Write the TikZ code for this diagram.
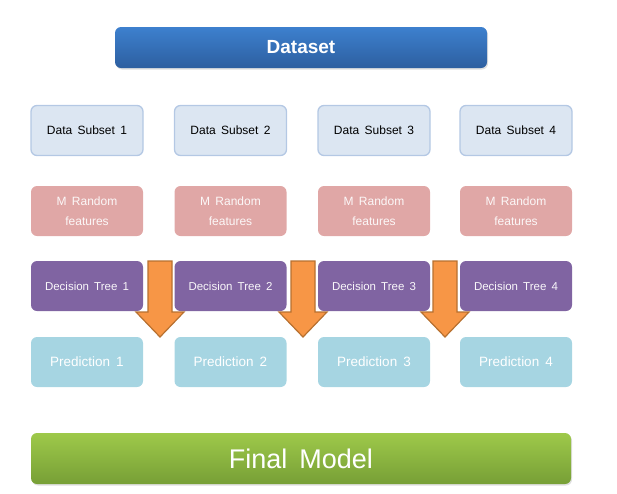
\documentclass[tikz,border=0pt]{standalone}
\usepackage{fontspec}
\setmainfont{Liberation Sans}[WordSpace=1.6]
\usepackage{xcolor}
\usepackage{tikz}
\usetikzlibrary{shadows}

\definecolor{dsTop}{HTML}{3D80CE}
\definecolor{dsBot}{HTML}{2D5FA0}
\definecolor{subFill}{HTML}{DCE6F2}
\definecolor{subLine}{HTML}{B4C8E4}
\definecolor{featFill}{HTML}{E0A7A6}
\definecolor{treeFill}{HTML}{8064A2}
\definecolor{predFill}{HTML}{A6D5E2}
\definecolor{fmTop}{HTML}{9EC94A}
\definecolor{fmBot}{HTML}{779F36}
\definecolor{arrFill}{HTML}{F79646}
\definecolor{arrLine}{HTML}{B7702F}

\tikzset{
	box/.style={rounded corners=6pt, minimum width=112pt, minimum height=50pt, align=center, inner sep=0pt},
	subbox/.style={box, fill=subFill, draw=subLine, line width=1.3pt, font=\fontsize{12}{14}\selectfont},
	featbox/.style={box, fill=featFill, text=white!92!featFill, font=\fontsize{12}{19.5}\selectfont},
	treebox/.style={box, fill=treeFill, text=white!95!treeFill, font=\fontsize{11.5}{14}\selectfont},
	predbox/.style={box, fill=predFill, text=white, font=\fontsize{13.5}{16}\selectfont},
	bigbox/.style={rounded corners=6pt, minimum height=41pt, inner sep=0pt, text=white,
		drop shadow={shadow xshift=1pt, shadow yshift=-1.5pt, opacity=0.25}},
	downarrow/.style={fill=arrFill, draw=arrLine, line width=1.2pt, line join=miter}
}

\begin{document}
\begin{tikzpicture}[x=1pt,y=-1pt]
		\useasboundingbox (0,0) rectangle (617,493);

		% top
		\node at (301,47.5) (ds) [bigbox, minimum width=372pt, top color=dsTop, bottom color=dsBot, font=\bfseries\fontsize{19}{22}\selectfont] {Dataset};

		% four columns
		\foreach \i/\x in {1/87,2/230.5,3/374,4/516}{
			\node at (\x,130.5) (sub\i) [subbox] {Data Subset \i};
			\node at (\x,211)   (feat\i) [featbox] {M Random\\features};
			\node at (\x,286)   (tree\i) [treebox] {Decision Tree \i};
			\node at (\x,362)   (pred\i) [predbox] {Prediction \i};
		}

		% block arrows between the columns
		\foreach \x in {160,303,445}{
			\draw[downarrow] (\x-12,261) -- (\x+12,261) -- (\x+12,312) -- (\x+24,312)
				-- (\x,337) -- (\x-24,312) -- (\x-12,312) -- cycle;
		}

		% bottom
		\node at (301,458.5) (fm) [bigbox, minimum width=540pt, minimum height=51pt, top color=fmTop, bottom color=fmBot, font=\fontsize{27}{30}\selectfont] {Final Model};
	\end{tikzpicture}
\end{document}
